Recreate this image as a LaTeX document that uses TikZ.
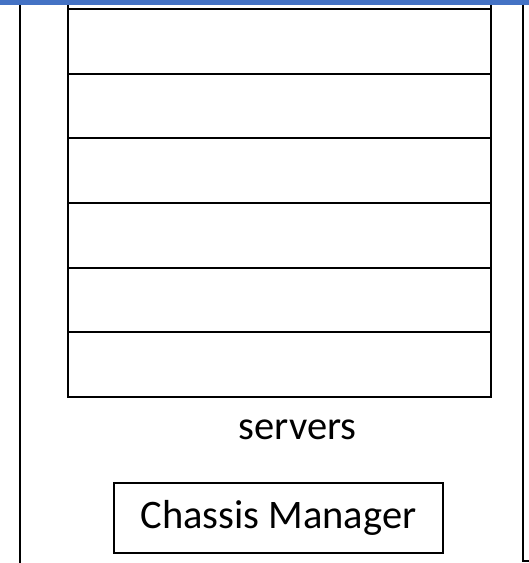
\documentclass[tikz,border=0pt]{standalone}
\usepackage{fontspec}
\setmainfont{Carlito}
\usetikzlibrary{positioning}
\definecolor{barblue}{HTML}{4472C4}
\tikzstyle{slot} = [rectangle, draw, line width=2pt, outer sep=0pt,
    minimum width=423pt, minimum height=64.7pt]
\tikzstyle{caption} = [font=\fontsize{40.5}{48}\selectfont, inner sep=0pt]
\tikzstyle{block} = [rectangle, draw, line width=1.2pt, font=\fontsize{40.5}{48}\selectfont,
    minimum width=329pt, minimum height=70pt, inner sep=0pt]
\tikzstyle{wall} = [draw, line width=2.2pt]

\begin{document}
\begin{tikzpicture}[x=1pt, y=-1pt]
      \useasboundingbox (0,0) rectangle (529,563);
      \fill [barblue] (0,0) rectangle (529,5);
      % chassis walls
      \coordinate (lwtop) at (20,5);
      \coordinate (lwbot) at (20,563);
      \coordinate (rwtop) at (523,5);
      \coordinate (rwbot) at (523,561);
      \coordinate (rwend) at (529,561);
      \path [wall] (lwtop) -- (lwbot);
      \path [wall] (rwtop) -- (rwbot) -- (rwend);
      % server slots
      \node [slot] (row1) at (279.5,41.3) {};
      \node [slot, below=0pt of row1] (row2) {};
      \node [slot, below=0pt of row2] (row3) {};
      \node [slot, below=0pt of row3] (row4) {};
      \node [slot, below=0pt of row4] (row5) {};
      \node [slot, below=0pt of row5] (row6) {};
      \coordinate (rtl) at (68,5);
      \coordinate (rtr) at (491,5);
      \path [draw, line width=2pt] (rtl) -- (row1.north west);
      \path [draw, line width=2pt] (rtr) -- (row1.north east);
      \node [caption, anchor=base] (servers) at (297.5,439) {servers};
      \node [block] (cm) at (278.5,518) {Chassis Manager};
  \end{tikzpicture}
\end{document}
